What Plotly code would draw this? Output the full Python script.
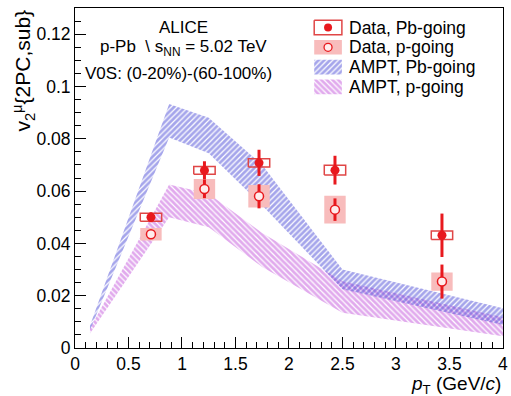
import plotly.graph_objects as go

# ---------------- data ----------------
pt = [0.71, 1.21, 1.72, 2.43, 3.43]
pb_v2 = [0.0500, 0.0679, 0.0708, 0.0680, 0.0431]
pb_stat = [0.0019, 0.0035, 0.0050, 0.0055, 0.0083]
pb_sys = [0.0015, 0.0015, 0.0016, 0.0019, 0.0016]
p_v2 = [0.0435, 0.0608, 0.0580, 0.0529, 0.0254]
p_stat = [0.0015, 0.0035, 0.0046, 0.0043, 0.0065]
p_sys = [0.0024, 0.0038, 0.0043, 0.0053, 0.0035]
sys_halfwidth = 0.1

ampt_x = [0.14, 0.88, 1.25, 1.75, 2.5, 4.0]
ampt_pb_hi = [0.0085, 0.0933, 0.0880, 0.0700, 0.0300, 0.0152]
ampt_pb_lo = [0.0068, 0.0805, 0.0745, 0.0545, 0.0225, 0.0088]
ampt_p_hi = [0.0075, 0.0625, 0.0590, 0.0440, 0.0255, 0.0118]
ampt_p_lo = [0.0055, 0.0500, 0.0462, 0.0310, 0.0135, 0.0045]

xticks = [0, 0.5, 1, 1.5, 2, 2.5, 3, 3.5, 4]
xticklabels = ["0", "0.5", "1", "1.5", "2", "2.5", "3", "3.5", "4"]
yticks = [0, 0.02, 0.04, 0.06, 0.08, 0.1, 0.12]
yticklabels = ["0", "0.02", "0.04", "0.06", "0.08", "0.1", "0.12"]

legend_labels = ["Data, Pb-going", "Data, p-going", "AMPT, Pb-going", "AMPT, p-going"]

# ---------------- style ----------------
FONT = "Liberation Sans, Arial, Helvetica, sans-serif"
RED = "#e8191e"
BOXRED = "#e04646"
PINK = "#f8bcbc"
BLUE = "rgb(75,75,215)"
PURPLE = "rgb(195,85,220)"
HATCH_SIZE = 4
HATCH_SOLID = 0.7
W, H = 511, 396
L, R, T, B = 75, 3, 8, 48
PW, PH = W - L - R, H - T - B


def px_to_paper(px, py):
    return (px - L) / PW, (H - B - py) / PH


def band(xs, hi, lo):
    return list(xs) + list(xs)[::-1], list(hi) + list(lo)[::-1]


def boxes(xs, ys, dy, dx):
    bx, by = [], []
    for x, y, e in zip(xs, ys, dy):
        bx += [x - dx, x + dx, x + dx, x - dx, x - dx, None]
        by += [y - e, y - e, y + e, y + e, y - e, None]
    return bx, by


fig = go.Figure()

# AMPT bands
for hi, lo, col, shp in [(ampt_p_hi, ampt_p_lo, PURPLE, "\\"),
                         (ampt_pb_hi, ampt_pb_lo, BLUE, "/")]:
    bx, by = band(ampt_x, hi, lo)
    fig.add_trace(go.Scatter(
        x=bx, y=by, mode="lines", fill="toself",
        line=dict(width=0, color="rgba(0,0,0,0)"),
        fillcolor="rgba(0,0,0,0)",
        fillpattern=dict(shape=shp, fgcolor=col, bgcolor="rgba(255,255,255,0)",
                         size=HATCH_SIZE, solidity=HATCH_SOLID, fillmode="overlay"),
        showlegend=False, hoverinfo="skip"))

# systematic boxes
bx, by = boxes(pt, p_v2, p_sys, sys_halfwidth)
fig.add_trace(go.Scatter(x=bx, y=by, mode="lines", fill="toself",
                         fillcolor=PINK, line=dict(width=0),
                         showlegend=False, hoverinfo="skip"))
bx, by = boxes(pt, pb_v2, pb_sys, sys_halfwidth)
fig.add_trace(go.Scatter(x=bx, y=by, mode="lines",
                         line=dict(width=1.5, color=BOXRED),
                         showlegend=False, hoverinfo="skip"))

# data points with stat errors
fig.add_trace(go.Scatter(
    x=pt, y=p_v2, mode="markers",
    marker=dict(symbol="circle", size=9, color="#ffecec",
                line=dict(width=1.5, color=RED)),
    error_y=dict(type="data", array=p_stat, color=RED, thickness=3, width=0),
    showlegend=False))
fig.add_trace(go.Scatter(
    x=pt, y=pb_v2, mode="markers",
    marker=dict(symbol="circle", size=9, color=RED, line=dict(width=0)),
    error_y=dict(type="data", array=pb_stat, color=RED, thickness=3, width=0),
    showlegend=False))

# ---------------- hand-made legend (own small axes in pixel units) ----------------
lx0, lx1 = 310, 352
ly0, ly1 = 15, 100
rows = [27.5, 47.3, 67.1, 86.9]
sw_x0, sw_x1, sw_h = 317, 345, 7.3
sw_xc = (sw_x0 + sw_x1) / 2


def rect(yc):
    return ([sw_x0, sw_x1, sw_x1, sw_x0, sw_x0],
            [yc - sw_h, yc - sw_h, yc + sw_h, yc + sw_h, yc - sw_h])


rx, ry = rect(rows[1])
fig.add_trace(go.Scatter(x=rx, y=ry, mode="lines", fill="toself", fillcolor=PINK,
                         line=dict(width=0), xaxis="x2", yaxis="y2",
                         showlegend=False, hoverinfo="skip"))
rx, ry = rect(rows[0])
fig.add_trace(go.Scatter(x=rx, y=ry, mode="lines", line=dict(width=1.5, color=BOXRED),
                         xaxis="x2", yaxis="y2", showlegend=False, hoverinfo="skip"))
fig.add_trace(go.Scatter(x=[sw_xc], y=[rows[0]], mode="markers",
                         marker=dict(size=8, color=RED), xaxis="x2", yaxis="y2",
                         showlegend=False, hoverinfo="skip"))
fig.add_trace(go.Scatter(x=[sw_xc], y=[rows[1]], mode="markers",
                         marker=dict(size=8, color="#ffecec", line=dict(width=1.3, color=RED)),
                         xaxis="x2", yaxis="y2", showlegend=False, hoverinfo="skip"))
for yc, col, shp in [(rows[2], BLUE, "/"), (rows[3], PURPLE, "\\")]:
    rx, ry = rect(yc)
    fig.add_trace(go.Scatter(
        x=rx, y=ry, mode="lines", fill="toself", line=dict(width=0),
        fillcolor="rgba(0,0,0,0)",
        fillpattern=dict(shape=shp, fgcolor=col, bgcolor="rgba(255,255,255,0)",
                         size=HATCH_SIZE, solidity=HATCH_SOLID, fillmode="overlay"),
        xaxis="x2", yaxis="y2", showlegend=False, hoverinfo="skip"))

ann = []
for yc, lab in zip(rows, legend_labels):
    ax, ay = px_to_paper(350, yc)
    ann.append(dict(x=ax, y=ay, xref="paper", yref="paper", text=lab, showarrow=False,
                    xanchor="left", yanchor="middle", font=dict(size=17.5, color="black", family=FONT)))

# info texts
for txt, px, py in [("ALICE", 185, 27),
                    ("p-Pb  \\ s<sub>NN</sub> = 5.02 TeV", 185, 48),
                    ("V0S: (0-20%)-(60-100%)", 180, 73)]:
    ax, ay = px_to_paper(px, py)
    ann.append(dict(x=ax, y=ay, xref="paper", yref="paper", text=txt, showarrow=False,
                    xanchor="center", yanchor="middle", font=dict(size=17, color="black", family=FONT)))

# axis titles
ax, ay = px_to_paper(508, 385)
ann.append(dict(x=ax, y=ay, xref="paper", yref="paper",
                text="<i>p</i><sub>T</sub> (GeV/<i>c</i>)", showarrow=False,
                xanchor="right", yanchor="middle", font=dict(size=19, color="black", family=FONT)))
ax, ay = px_to_paper(22, 8)
ann.append(dict(x=ax, y=ay, xref="paper", yref="paper",
                text="v<sub>2</sub><sup>μ</sup>{2PC,sub}", showarrow=False, textangle=-90,
                xanchor="center", yanchor="top", font=dict(size=21, color="black", family=FONT)))

ldx0, _ = px_to_paper(lx0, 0)
ldx1, _ = px_to_paper(lx1, 0)
_, ldy0 = px_to_paper(0, ly1)
_, ldy1 = px_to_paper(0, ly0)

axis_common = dict(showgrid=False, zeroline=False, showline=True, linecolor="black",
                   linewidth=1, mirror=True, ticks="inside", tickcolor="black",
                   ticklen=11, tickwidth=1, ticklabeloverflow="allow",
                   tickfont=dict(size=17.5, color="black", family=FONT))

fig.update_layout(
    width=W, height=H,
    margin=dict(l=L, r=R, t=T, b=B, pad=0),
    paper_bgcolor="white", plot_bgcolor="white",
    showlegend=False,
    font=dict(family=FONT, color="black"),
    xaxis=dict(range=[0, 4.0005], tickvals=xticks, ticktext=xticklabels,
               minor=dict(dtick=0.1, ticklen=6, ticks="inside", tickcolor="black"),
               domain=[0, 1], **axis_common),
    yaxis=dict(range=[0, 0.13], tickvals=yticks, ticktext=yticklabels,
               minor=dict(dtick=0.005, ticklen=6, ticks="inside", tickcolor="black"),
               domain=[0, 1], **axis_common),
    xaxis2=dict(domain=[ldx0, ldx1], range=[lx0, lx1], anchor="y2", visible=False,
                fixedrange=True),
    yaxis2=dict(domain=[ldy0, ldy1], range=[ly1, ly0], anchor="x2", visible=False,
                fixedrange=True),
    annotations=ann,
)

fig.write_html("out.html")
